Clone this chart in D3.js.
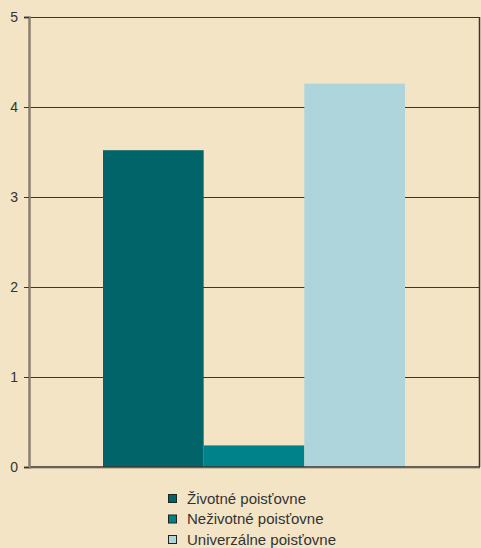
<!DOCTYPE html>
<html>
<head>
<meta charset="utf-8">
<script src="https://cdn.jsdelivr.net/npm/d3@7"></script>
<style>
  html, body { margin: 0; padding: 0; background: #F2E4C5; }
  svg { display: block; }
  text { font-family: "Liberation Sans", Arial, sans-serif; fill: #333; }
</style>
</head>
<body>
<svg id="chart" width="481" height="548"></svg>
<script>
// Series (one bar per insurer type)
const seriesNames = ["Životné poisťovne", "Neživotné poisťovne", "Univerzálne poisťovne"];
const seriesValues = [3.52, 0.24, 4.26];
const seriesColors = ["#006469", "#00828B", "#AED5DC"];
const yTicks = [0, 1, 2, 3, 4, 5];

const svg = d3.select("#chart");
const W = 481, H = 548;
const margin = { top: 17, right: 1, bottom: 81, left: 29 };
const plotW = W - margin.left - margin.right;
const plotH = H - margin.top - margin.bottom;

const g = svg.append("g").attr("transform", `translate(${margin.left},${margin.top})`);

const y = d3.scaleLinear().domain([0, 5]).range([plotH, 0]);
// Bars form one group centred in the plot
const x = d3.scaleBand().domain(seriesNames).range([74, 376]).paddingInner(0).paddingOuter(0);

// Horizontal grid lines
g.append("g").selectAll("line").data(yTicks.filter(t => t > 0)).join("line")
  .attr("x1", 0).attr("x2", plotW)
  .attr("y1", d => Math.round(y(d)) + 0.5).attr("y2", d => Math.round(y(d)) + 0.5)
  .attr("stroke", "#3a3530").attr("stroke-width", 1);

// Bars
g.append("g").selectAll("rect").data(seriesValues).join("rect")
  .attr("x", (d, i) => x(seriesNames[i]))
  .attr("width", x.bandwidth())
  .attr("y", d => y(d))
  .attr("height", d => plotH - y(d))
  .attr("fill", (d, i) => seriesColors[i]);

// Right border
g.append("line").attr("x1", plotW - 0.5).attr("x2", plotW - 0.5)
  .attr("y1", 0).attr("y2", plotH).attr("stroke", "#3a3530").attr("stroke-width", 1.5);

// Baseline with a soft shadow
g.append("line").attr("x1", 0).attr("x2", plotW)
  .attr("y1", plotH + 1.5).attr("y2", plotH + 1.5)
  .attr("stroke", "#c9bca0").attr("stroke-width", 1);
g.append("line").attr("x1", 0).attr("x2", plotW)
  .attr("y1", plotH).attr("y2", plotH)
  .attr("stroke", "#3a3530").attr("stroke-width", 1.5);

// Y axis
const yAxis = d3.axisLeft(y).tickValues(yTicks).tickSize(5).tickPadding(6).tickFormat(d3.format("d"));
const ya = g.append("g").call(yAxis);
ya.select(".domain").attr("stroke", "#8a7f70").attr("stroke-width", 2.5);
ya.selectAll(".tick line").attr("stroke", "#3a3530");
ya.selectAll(".tick text").style("font-size", "14px").attr("fill", "#333")
  .style("font-family", "'Liberation Sans', Arial, sans-serif");

// Legend
const legend = svg.append("g").attr("transform", "translate(168,494)");
const rows = legend.selectAll("g").data(seriesNames).join("g")
  .attr("transform", (d, i) => `translate(0,${i * 20.5})`);
rows.append("rect").attr("x", 0.5).attr("y", 0.5).attr("width", 8).attr("height", 8)
  .attr("fill", (d, i) => seriesColors[i]).attr("stroke", "#222").attr("stroke-width", 1);
rows.append("text").attr("x", 19).attr("y", 9.5)
  .style("font-size", "15px").text(d => d);
</script>
</body>
</html>
